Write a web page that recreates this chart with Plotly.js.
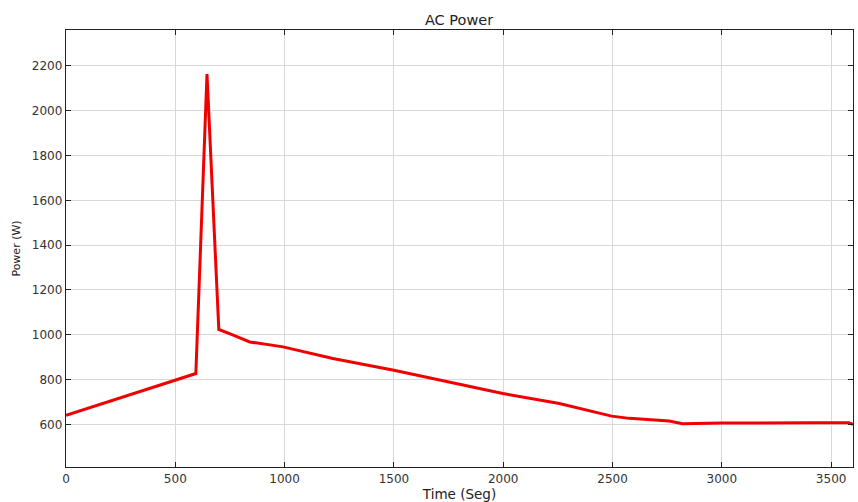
<!DOCTYPE html>
<html>
<head>
<meta charset="utf-8">
<script src="https://cdn.plot.ly/plotly-3.0.1.min.js"></script>
<style>html,body{margin:0;padding:0;background:#fff;}#chart{width:858px;height:502px;}</style>
</head>
<body>
<div id="chart"></div>
<script>
const timeSeg = [0, 594, 645, 699, 765, 841, 993, 1221, 1500, 1998, 2257, 2496, 2577, 2622, 2759, 2820, 3000, 3400, 3580, 3600];
const powerW  = [641, 827, 2163, 1024, 998, 968, 946, 894, 842, 738, 693, 637, 627, 624, 615, 603, 606, 607, 607, 600];
const xTicks = [0, 500, 1000, 1500, 2000, 2500, 3000, 3500];
const yTicks = [600, 800, 1000, 1200, 1400, 1600, 1800, 2000, 2200];

const FONT = 'DejaVu Sans, Liberation Sans, Arial, sans-serif';
const trace = {
  x: timeSeg, y: powerW, type: 'scatter', mode: 'lines',
  line: {color: '#f00000', width: 3}, showlegend: false, hoverinfo: 'skip'
};
const axisCommon = {
  showline: true, linecolor: '#222', linewidth: 1.3, mirror: 'ticks',
  ticks: 'inside', ticklen: 5, tickcolor: '#222',
  showgrid: true, gridcolor: '#d8d8d8', gridwidth: 1, zeroline: false,
  tickfont: {family: FONT, size: 12, color: '#333'}
};
const layout = {
  width: 858, height: 502,
  margin: {l: 66, r: 5, t: 30, b: 35},
  paper_bgcolor: '#fff', plot_bgcolor: '#fff',
  title: {text: 'AC Power', x: 0.535, xanchor: 'center', y: 0.961, yanchor: 'middle',
          font: {family: FONT, size: 14.5, color: '#222'}},
  xaxis: Object.assign({}, axisCommon, {
    range: [0, 3600], tickvals: xTicks, ticktext: xTicks.map(String),
    title: {text: 'Time (Seg)', standoff: 4, font: {family: FONT, size: 13.5, color: '#222'}}
  }),
  yaxis: Object.assign({}, axisCommon, {
    range: [410, 2360], tickvals: yTicks, ticktext: yTicks.map(String),
    title: {text: 'Power (W)', standoff: 9, font: {family: FONT, size: 11, color: '#222'}}
  })
};
Plotly.newPlot('chart', [trace], layout, {displayModeBar: false, staticPlot: true});
</script>
</body>
</html>
